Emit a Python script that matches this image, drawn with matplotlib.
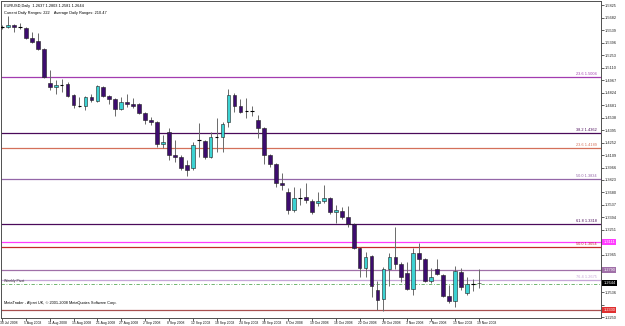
import matplotlib
matplotlib.use("Agg")
import matplotlib.pyplot as plt
import matplotlib.transforms as mtransforms
import numpy as np

# EURUSD daily bars, 30 Jul 2008 .. 19 Nov 2008
opens = [1.5577, 1.5577, 1.5600, 1.5577, 1.5566, 1.5451, 1.5417, 1.5325, 1.4935, 1.4889,
         1.4912, 1.4924, 1.4797, 1.4671, 1.4671, 1.4774, 1.4729, 1.4889, 1.4786, 1.4751,
         1.4637, 1.4717, 1.4694, 1.4694, 1.4591, 1.4511, 1.4488, 1.4235, 1.4373, 1.4109,
         1.4086, 1.3994, 1.3960, 1.4281, 1.4270, 1.4086, 1.4316, 1.4316, 1.4488, 1.4797,
         1.4671, 1.4614, 1.4614, 1.4511, 1.4419, 1.4109, 1.4006, 1.3788, 1.3685, 1.3478,
         1.3616, 1.3627, 1.3582, 1.3559, 1.3582, 1.3616, 1.3455, 1.3467, 1.3398, 1.3318,
         1.3042, 1.2813, 1.2951, 1.2561, 1.2457, 1.2802, 1.2939, 1.2859, 1.2756, 1.2572,
         1.2985, 1.2916, 1.2664, 1.2802, 1.2733, 1.2492, 1.2435, 1.2767, 1.2526, 1.2630,
         1.2637]
highs = [1.5600, 1.5703, 1.5612, 1.5623, 1.5577, 1.5520, 1.5508, 1.5336, 1.5084, 1.4969,
         1.4981, 1.4946, 1.4809, 1.4774, 1.4786, 1.4809, 1.4912, 1.4901, 1.4797, 1.4763,
         1.4774, 1.4809, 1.4763, 1.4706, 1.4602, 1.4545, 1.4499, 1.4339, 1.4419, 1.4281,
         1.4109, 1.4052, 1.4258, 1.4476, 1.4281, 1.4373, 1.4534, 1.4488, 1.4866, 1.4820,
         1.4751, 1.4763, 1.4671, 1.4568, 1.4430, 1.4121, 1.4017, 1.3903, 1.3731, 1.3742,
         1.3731, 1.3788, 1.3604, 1.3685, 1.3765, 1.3627, 1.3536, 1.3513, 1.3524, 1.3329,
         1.3054, 1.2997, 1.2962, 1.2664, 1.2825, 1.2985, 1.3283, 1.2882, 1.2882, 1.3042,
         1.3100, 1.2928, 1.2813, 1.2916, 1.2744, 1.2618, 1.2836, 1.2813, 1.2710, 1.2687,
         1.2803]
lows = [1.5554, 1.5566, 1.5520, 1.5554, 1.5440, 1.5394, 1.5313, 1.4992, 1.4855, 1.4809,
        1.4832, 1.4774, 1.4648, 1.4660, 1.4625, 1.4717, 1.4717, 1.4774, 1.4694, 1.4556,
        1.4625, 1.4660, 1.4648, 1.4579, 1.4465, 1.4453, 1.4201, 1.4189, 1.4052, 1.4029,
        1.3937, 1.3868, 1.3937, 1.4086, 1.4063, 1.4075, 1.4144, 1.4144, 1.4430, 1.4602,
        1.4591, 1.4534, 1.4556, 1.4304, 1.4006, 1.3972, 1.3742, 1.3708, 1.3432, 1.3455,
        1.3536, 1.3559, 1.3432, 1.3524, 1.3559, 1.3432, 1.3329, 1.3375, 1.3283, 1.3031,
        1.2710, 1.2710, 1.2480, 1.2330, 1.2325, 1.2607, 1.2802, 1.2652, 1.2561, 1.2503,
        1.2790, 1.2652, 1.2641, 1.2733, 1.2480, 1.2412, 1.2366, 1.2561, 1.2503, 1.2549,
        1.2581]
closes = [1.5579, 1.5600, 1.5577, 1.5575, 1.5451, 1.5405, 1.5325, 1.5004, 1.4889, 1.4912,
          1.4910, 1.4786, 1.4683, 1.4669, 1.4774, 1.4740, 1.4901, 1.4786, 1.4751, 1.4637,
          1.4717, 1.4694, 1.4671, 1.4591, 1.4511, 1.4488, 1.4235, 1.4258, 1.4109, 1.4086,
          1.3960, 1.3937, 1.4224, 1.4279, 1.4086, 1.4316, 1.4314, 1.4465, 1.4797, 1.4671,
          1.4602, 1.4612, 1.4612, 1.4419, 1.4109, 1.4006, 1.3788, 1.3765, 1.3478, 1.3616,
          1.3614, 1.3593, 1.3455, 1.3582, 1.3616, 1.3455, 1.3478, 1.3398, 1.3318, 1.3042,
          1.2813, 1.2939, 1.2607, 1.2446, 1.2802, 1.2939, 1.2859, 1.2710, 1.2572, 1.2985,
          1.2916, 1.2664, 1.2710, 1.2744, 1.2492, 1.2435, 1.2779, 1.2595, 1.2630, 1.2628,
          1.2644]

date_labels = ["30 Jul 2008", "5 Aug 2008", "11 Aug 2008", "15 Aug 2008", "21 Aug 2008",
               "27 Aug 2008", "2 Sep 2008", "8 Sep 2008", "12 Sep 2008", "18 Sep 2008",
               "24 Sep 2008", "30 Sep 2008", "6 Oct 2008", "10 Oct 2008", "16 Oct 2008",
               "22 Oct 2008", "28 Oct 2008", "3 Nov 2008", "7 Nov 2008", "13 Nov 2008",
               "19 Nov 2008"]

# horizontal levels drawn on the chart
level_prices = [1.5004, 1.4362, 1.4189, 1.3834, 1.3318, 1.3111, 1.3054, 1.2790, 1.2675, 1.2330]
level_labels = ["23.6 1.5004", "38.2 1.4362", "23.6 1.4189", "50.0 1.3834", "61.8 1.3318",
                "", "50.0 1.3054", "", "76.4 1.2675", ""]
level_colors = ["#a33cb0", "#4a0a5a", "#d4705a", "#9466a8", "#4a0a5a",
                "#ff3cff", "#c42a2a", "#a070a8", "#c6a6d8", "#a85050"]

# price boxes on the right scale
box_prices = [1.3111, 1.2790, 1.2644, 1.2330]
box_colors = ["#ff3cff", "#a070a8", "#000000", "#e03030"]

price_ticks = [round(1.2250 + 0.0143 * k, 4) for k in range(26)]

FONT = ["Liberation Sans Narrow", "Liberation Sans", "DejaVu Sans"]
FS = 2.8

fig = plt.figure(figsize=(6.25, 3.26), dpi=100)
fig.patch.set_facecolor("white")
ax = fig.add_axes([1 / 625, 8 / 326, 600 / 625, 317 / 326])
ax.set_facecolor("white")

n = len(opens)
x = np.arange(n)
o = np.array(opens)
h = np.array(highs)
l = np.array(lows)
c = np.array(closes)

# levels first, candles on top
for p, lab, col in zip(level_prices, level_labels, level_colors):
    ax.axhline(p, color=col, lw=0.9, zorder=1)
    if lab:
        ax.text(99.8, p + 0.0008, lab, ha="right", va="bottom", color=col,
                fontsize=FS, family=FONT, zorder=2)
ax.axhline(1.2630, color="#5aaa5a", lw=0.6, ls=(0, (4, 2, 1, 2)), zorder=1)

# candles
ax.vlines(x, l, h, color="#6a6a6a", lw=0.7, zorder=3)
bull = c > o
body_lo = np.minimum(o, c)
body_h = np.abs(c - o)
doji = body_h < 0.0005
w = 0.62
ax.bar(x[bull & ~doji], body_h[bull & ~doji], bottom=body_lo[bull & ~doji], width=w,
       color="#3cd2d2", edgecolor="#202020", lw=0.4, zorder=4)
ax.bar(x[~bull & ~doji], body_h[~bull & ~doji], bottom=body_lo[~bull & ~doji], width=w,
       color="#3d0c6e", edgecolor="#202020", lw=0.4, zorder=4)
ax.hlines(c[doji], x[doji] - w / 2, x[doji] + w / 2, color="black", lw=0.8, zorder=4)

ax.set_xlim(-0.17, 100.5)
ax.set_ylim(1.2240, 1.5876)

# right price scale, labels that would sit under a price box are left blank
ax.yaxis.tick_right()
ax.set_yticks(price_ticks)
tick_text = []
for t in price_ticks:
    near_box = any(abs(t - b) < 0.0075 for b in box_prices)
    tick_text.append("" if near_box else f"{t:.4f}")
ax.set_yticklabels(tick_text, fontsize=FS, family=FONT)
ax.tick_params(axis="y", length=2, width=0.5, pad=1, colors="#202020")

# date scale
tick_pos = x[::4]
ax.set_xticks(tick_pos)
ax.set_xticklabels([])
ax.tick_params(axis="x", length=2, width=0.5, colors="#202020")
xtrans = mtransforms.blended_transform_factory(ax.transData, ax.transAxes)
for xp, lab in zip(tick_pos, date_labels):
    ax.text(xp - 0.3, -0.008, lab, transform=xtrans, ha="left", va="top",
            fontsize=2.45, family=FONT, color="#101010")

for s in ax.spines.values():
    s.set_linewidth(0.7)
    s.set_color("#505050")

trans = mtransforms.blended_transform_factory(ax.transAxes, ax.transData)
for p, col in zip(box_prices, box_colors):
    ax.text(1.004, p, f"{p:.4f}", transform=trans, ha="left", va="center",
            fontsize=FS, family=FONT, color="white",
            bbox=dict(boxstyle="square,pad=0.25", fc=col, ec="none"), zorder=6)

# header and footer texts
ax.text(0.005, 0.992, "EURUSD,Daily  1.2637 1.2803 1.2581 1.2644", transform=ax.transAxes,
        ha="left", va="top", fontsize=FS, family=FONT, color="black")
ax.text(0.005, 0.970, "Current Daily Ranges: 222    Average Daily Ranges: 210.47",
        transform=ax.transAxes, ha="left", va="top", fontsize=FS, family=FONT, color="black")
ax.text(0.3, 1.2665, "Weekly Pivot", ha="left", va="center", fontsize=FS * 0.9,
        family=FONT, color="#303030")
ax.text(0.005, 0.04, "MetaTrader - Alpari UK, \u00a9 2001-2008 MetaQuotes Software Corp.",
        transform=ax.transAxes, ha="left", va="bottom", fontsize=FS, family=FONT, color="black")

fig.savefig("out.png", dpi=100, facecolor="white")
